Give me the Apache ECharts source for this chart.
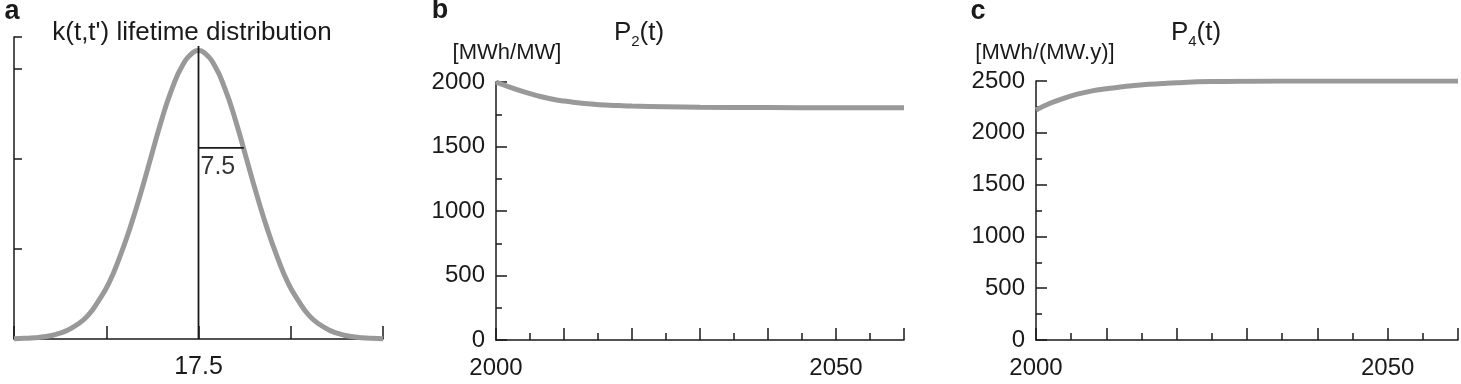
<!DOCTYPE html>
<html>
<head>
<meta charset="utf-8">
<script src="https://cdn.jsdelivr.net/npm/echarts@6/dist/echarts.min.js"></script>
<style>
  html, body { margin: 0; padding: 0; background: #fff; }
  #main { width: 1461px; height: 384px; }
</style>
</head>
<body>
<div id="main"></div>
<script>
// panel a: lifetime distribution k(t,t') (arbitrary units)
const ageYears = [0, 1, 2, 3, 4, 5, 6, 7, 8, 9, 10, 11, 12, 13, 14, 15, 16, 17, 17.5,
  18, 19, 20, 21, 22, 23, 24, 25, 26, 27, 28, 29, 30, 31, 32, 33, 34, 35];
const lifetimeK = [0.003, 0.007, 0.014, 0.027, 0.052, 0.093, 0.16, 0.26, 0.42, 0.62, 0.90, 1.23,
  1.61, 2.02, 2.43, 2.78, 3.04, 3.18, 3.20,
  3.18, 3.04, 2.78, 2.43, 2.02, 1.61, 1.23, 0.90, 0.62, 0.42, 0.26, 0.16, 0.093, 0.052, 0.027,
  0.014, 0.007, 0.003];
const meanAge = 17.5;
const meanLineTop = 3.25;
const widthLevel = 2.12;
const widthEnd = 21.8;
const widthLabel = '7.5';

// panels b and c
const years = [2000, 2002, 2004, 2006, 2008, 2010, 2012, 2014, 2016, 2018, 2020, 2025, 2030, 2040, 2050, 2060];
const p2 = [2000, 1960, 1925, 1895, 1870, 1852, 1840, 1830, 1822, 1817, 1813, 1808, 1805, 1802, 1800, 1800];
const p4 = [2220, 2285, 2335, 2375, 2405, 2425, 2443, 2457, 2468, 2477, 2484, 2494, 2498, 2500, 2500, 2500];
const yearLabels = [2000, 2050];

const FONT = "'Liberation Sans', Arial, Helvetica, sans-serif";
const INK = '#1a1a1a';
const CURVE = '#999';

const zip = (xs, ys) => xs.map((x, i) => [x, ys[i]]);

const axisLine = { show: true, onZero: false, lineStyle: { color: INK, width: 1.5 } };
const label = { color: INK, fontSize: 24, fontFamily: FONT };

function yearAxis(idx) {
  return {
    type: 'value', gridIndex: idx, min: 2000, max: 2060, interval: 10,
    axisLine, splitLine: { show: false },
    axisTick: { show: true, inside: true, length: 12, lineStyle: { color: INK, width: 1.5 } },
    minorTick: { show: true, splitNumber: 2, length: 7, lineStyle: { color: INK, width: 1.5 } },
    axisLabel: Object.assign({ margin: 16, formatter: v => yearLabels.includes(v) ? String(v) : '' }, label)
  };
}
function valueAxis(idx, max) {
  return {
    type: 'value', gridIndex: idx, min: 0, max, interval: 500,
    axisLine, splitLine: { show: false },
    axisTick: { show: true, inside: true, length: 11, lineStyle: { color: INK, width: 1.5 } },
    minorTick: { show: true, splitNumber: 2, length: 6, lineStyle: { color: INK, width: 1.5 } },
    axisLabel: Object.assign({ margin: 11, formatter: v => String(v) }, label)
  };
}

const chart = echarts.init(document.getElementById('main'));

const txt = (x, y, text, size, extra) => ({
  type: 'text', x, y,
  style: Object.assign({ text, fill: INK, fontSize: size, fontFamily: FONT, align: 'center', verticalAlign: 'middle' }, extra || {})
});
const subRich = { s: { fontSize: 15, fontFamily: FONT, fill: INK, verticalAlign: 'bottom', padding: [0, 0, -3, 0] } };

chart.setOption({
  animation: false,
  backgroundColor: '#fff',
  grid: [
    { left: 14, top: 37, width: 369, height: 302 },
    { left: 496, top: 82, width: 408, height: 258 },
    { left: 1036, top: 81, width: 422, height: 259 }
  ],
  xAxis: [
    {
      type: 'value', gridIndex: 0, min: 0, max: 35, interval: 8.75,
      axisLine, splitLine: { show: false },
      axisTick: { show: true, inside: true, length: 13, lineStyle: { color: INK, width: 1.5 } },
      axisLabel: Object.assign({}, label, { margin: 16, fontSize: 25, formatter: v => v === meanAge ? '17.5' : '' })
    },
    yearAxis(1),
    yearAxis(2)
  ],
  yAxis: [
    {
      type: 'value', gridIndex: 0, min: 0, max: 3.35, interval: 1,
      axisLine, splitLine: { show: false },
      axisTick: { show: true, inside: true, length: 8, lineStyle: { color: INK, width: 1.5 } },
      axisLabel: { show: false }
    },
    valueAxis(1, 2000),
    valueAxis(2, 2500)
  ],
  series: [
    {
      type: 'line', xAxisIndex: 0, yAxisIndex: 0, data: zip(ageYears, lifetimeK),
      smooth: true, symbol: 'none', clip: false,
      lineStyle: { color: CURVE, width: 5 }
    },
    {
      type: 'line', xAxisIndex: 0, yAxisIndex: 0, data: [[meanAge, 0], [meanAge, meanLineTop]],
      symbol: 'none', z: 5, lineStyle: { color: INK, width: 1.8 }
    },
    {
      type: 'line', xAxisIndex: 0, yAxisIndex: 0, data: [[meanAge, widthLevel], [widthEnd, widthLevel]],
      symbol: 'none', z: 5, lineStyle: { color: INK, width: 1.8 }
    },
    {
      type: 'scatter', xAxisIndex: 0, yAxisIndex: 0, data: [[meanAge, widthLevel]],
      symbolSize: 0, z: 6, silent: true,
      label: { show: true, position: 'bottom', distance: 7, align: 'left', offset: [2, 0],
        formatter: widthLabel, color: '#000', textBorderWidth: 0, fontSize: 25, fontFamily: FONT }
    },
    {
      type: 'line', xAxisIndex: 1, yAxisIndex: 1, data: zip(years, p2),
      smooth: 0.5, symbol: 'none',
      lineStyle: { color: CURVE, width: 5 }
    },
    {
      type: 'line', xAxisIndex: 2, yAxisIndex: 2, data: zip(years, p4),
      smooth: 0.5, symbol: 'none',
      lineStyle: { color: CURVE, width: 5 }
    }
  ],
  graphic: [
    txt(12, 12, 'a', 27, { fontWeight: 'bold' }),
    txt(440, 11, 'b', 27, { fontWeight: 'bold' }),
    txt(978, 12, 'c', 27, { fontWeight: 'bold' }),
    txt(192, 33, "k(t,t') lifetime distribution", 26),
    txt(639, 33, 'P{s|2}(t)', 26, { rich: subRich }),
    txt(1196, 33, 'P{s|4}(t)', 26, { rich: subRich }),
    txt(507, 53, '[MWh/MW]', 22),
    txt(1045, 53, '[MWh/(MW.y)]', 22)
  ]
});
</script>
</body>
</html>
